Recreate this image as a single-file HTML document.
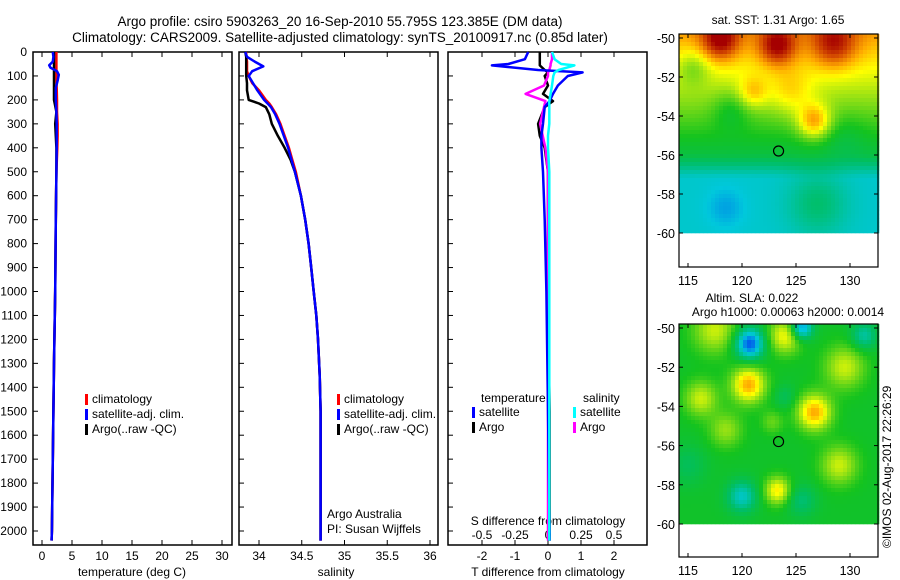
<!DOCTYPE html>
<html><head><meta charset="utf-8"><style>
body{margin:0;background:#fff;}
svg{display:block;font-family:"Liberation Sans",sans-serif;}
text{fill:#000;}
</style></head><body>
<svg id="c" width="900" height="580" viewBox="0 0 900 580">
<text x="340" y="26" font-size="13.5" text-anchor="middle">Argo profile: csiro 5903263_20 16-Sep-2010 55.795S 123.385E (DM data)</text>
<text x="340" y="42" font-size="13.5" text-anchor="middle">Climatology: CARS2009. Satellite-adjusted climatology: synTS_20100917.nc (0.85d later)</text>
</svg>
<script>
// ---- profile data (depth in m) ----
const tDepth=[0,20,40,55,65,80,95,120,150,200,250,300,350,400,500,700,1000,1300,1600,2000,2040];
const tClim=[2.4,2.4,2.4,2.4,2.4,2.4,2.4,2.4,2.45,2.5,2.5,2.6,2.6,2.55,2.4,2.3,2.2,2.0,1.85,1.65,1.6];
const tSat=[1.8,1.9,1.8,1.2,1.4,2.5,2.8,2.6,2.3,2.3,2.4,2.45,2.45,2.45,2.4,2.3,2.2,2.0,1.85,1.65,1.6];
const tArgo=[2.0,2.0,2.0,2.0,2.0,2.0,2.0,2.0,2.0,2.0,2.4,2.2,2.3,2.4,2.4,2.3,2.2,2.0,1.85,1.65,1.6];
const sDepth=[0,20,40,60,80,100,130,160,200,215,230,260,300,350,400,450,500,600,700,800,900,1000,1100,1200,1350,1500,2000,2040];
const sClim=[33.85,33.85,33.86,33.86,33.86,33.88,33.92,34.0,34.08,34.12,34.15,34.2,34.25,34.3,34.35,34.39,34.43,34.49,34.54,34.58,34.61,34.64,34.67,34.69,34.71,34.72,34.72,34.72];
const sSat=[33.84,33.86,33.95,34.05,33.92,33.88,33.93,33.98,34.06,34.1,34.14,34.19,34.24,34.29,34.34,34.38,34.42,34.49,34.54,34.58,34.61,34.64,34.67,34.69,34.71,34.72,34.72,34.72];
const sArgo=[33.84,33.85,33.85,33.85,33.85,33.85,33.86,33.86,33.88,34.0,34.08,34.12,34.15,34.22,34.3,34.37,34.42,34.49,34.54,34.58,34.61,34.64,34.67,34.69,34.71,34.72,34.72,34.72];
const dDepth=[0,30,50,56,75,85,100,140,175,205,230,300,350,400,500,700,1000,1500,2000,2040];
const dTSat=[-0.6,-0.7,-1.2,-1.7,-0.3,1.05,0.6,0.3,0.15,0.05,-0.1,-0.15,-0.2,-0.2,-0.15,-0.1,-0.05,0,0.05,0.05];
const dTArgo=[-0.25,-0.25,-0.25,-0.25,-0.1,0,-0.1,0,-0.15,0.15,-0.1,-0.3,-0.25,-0.1,0,0,0,0.05,0.05,0.05];
const dSSat=[0.03,0.05,0.1,0.2,0.08,0.05,0.04,0.03,0.02,0.01,0.01,0.01,0.0,0.0,0.01,0.01,0.01,0.01,0.01,0.01];
const dSArgo=[0.03,0.03,0.02,0.02,0.01,0.0,0.0,-0.03,-0.17,-0.02,-0.03,-0.06,-0.04,-0.02,0.0,0.0,0.0,0.0,0.0,0.0];
const depthTicks=[0,100,200,300,400,500,600,700,800,900,1000,1100,1200,1300,1400,1500,1600,1700,1800,1900,2000];
const tTicks=[0,5,10,15,20,25,30];
const sTicks=[34,34.5,35,35.5,36];
const dTTicks=[-2,-1,0,1,2];
const dSTicks=[-0.5,-0.25,0,0.25,0.5];
// map blobs [lon,lat,amp,radius]
const sstBlobs=[[123.3,-50.4,0.3,1.0],[118,-50.1,0.3,1.0],[128.5,-50.3,0.25,1.2],[126.7,-54.3,0.28,0.9],[124.5,-52.8,0.12,1.2],[121,-52.8,0.15,0.8],[119,-53.7,-0.1,1.0],[115.5,-51.5,-0.12,0.9],[129.5,-55,-0.05,1.2],[127,-58.5,0.12,1.6],[118.5,-58.7,-0.06,1.0]];
const slaBlobs=[[120.7,-50.8,-0.38,0.8],[120.6,-52.9,0.35,0.9],[126.7,-54.3,0.35,0.9],[124,-50.4,0.25,0.9],[117.5,-50.1,0.2,1.2],[129.5,-52,0.2,1.1],[116.2,-53.6,0.2,0.9],[118.5,-55.2,0.15,0.9],[129,-57,0.2,1.0],[123.3,-58.3,0.27,0.7],[120,-58.6,-0.22,0.8],[125.5,-50,-0.35,0.6],[131.3,-50.4,-0.18,0.7],[125.5,-58.8,-0.12,0.8],[124,-53.5,-0.08,0.6],[115,-57,-0.08,1.0],[122.8,-54.8,0.1,0.6]];

const NS='http://www.w3.org/2000/svg';
const svg=document.getElementById('c');
function mk(tag,at,parent){const e=document.createElementNS(NS,tag);for(const k in at)e.setAttribute(k,at[k]);(parent||svg).appendChild(e);return e;}
function txt(x,y,s,size,anchor){const t=mk('text',{x:x,y:y,'font-size':size||12,'text-anchor':anchor||'middle'});t.textContent=s;return t;}

const top0=52, pxPerM=23.95/100, bot=545;
const yD=d=>top0+d*pxPerM;
const xT=v=>42+v*6;
const xS=v=>259+(v-34)*85.5;
const xDT=v=>548+v*33;
const xDS=v=>548+v*132;

function panel(x0,name){
  const r=mk('rect',{x:x0,y:top0,width:199,height:bot-top0,fill:'none',stroke:'#000','stroke-width':1.5});
  
  
  depthTicks.forEach(d=>{const l=mk('line',{x1:x0,x2:x0+5,y1:yD(d),y2:yD(d),stroke:'#000'});
    
    
    if(x0===33){const t=txt(27,yD(d)+4,String(d),12,'end');
      
      }});
}
function xticks(ticks,fx,y,name,fmt){ticks.forEach(v=>{const x=fx(v);
  mk('line',{x1:x,x2:x,y1:bot,y2:bot-5,stroke:'#000'});
  mk('line',{x1:x,x2:x,y1:top0,y2:top0+5,stroke:'#000'});
  const t=txt(x,y,fmt?fmt(v):String(v),12);
  
  });}
function line(ds,vs,fx,color,name,w){
  const pts=ds.map((d,i)=>fx(vs[i]).toFixed(1)+','+yD(d).toFixed(1)).join(' ');
  const p=mk('polyline',{points:pts,fill:'none',stroke:color,'stroke-width':w||2.5,'stroke-linejoin':'round'});
  
  }

panel(33,'temperature-panel');panel(239,'salinity-panel');panel(448,'difference-panel');
xticks(tTicks,xT,560,'temperature');
xticks(sTicks,xS,560,'salinity');
xticks(dTTicks,xDT,560,'t-difference');
dSTicks.forEach(v=>{const t=txt(xDS(v),539,String(v),12);
  
  });
let t;
t=txt(132,576,'temperature (deg C)',12);
t=txt(336,576,'salinity',12);
t=txt(548,576,'T difference from climatology',12);
t=txt(548,525,'S difference from climatology',12);

line(tDepth,tClim,xT,'#ff0000','temperature-climatology-line');
line(tDepth,tArgo,xT,'#000','temperature-argo-line');
line(tDepth,tSat,xT,'#0000ff','temperature-satellite-line');
line(sDepth,sClim,xS,'#ff0000','salinity-climatology-line');
line(sDepth,sArgo,xS,'#000','salinity-argo-line');
line(sDepth,sSat,xS,'#0000ff','salinity-satellite-line');
line(dDepth,dTArgo,xDT,'#000','t-diff-argo-line');
line(dDepth,dSArgo,xDS,'#ff00ff','s-diff-argo-line');
line(dDepth,dTSat,xDT,'#0000ff','t-diff-satellite-line');
line(dDepth,dSSat,xDS,'#00ffff','s-diff-satellite-line');

function legend(x,y,items,name){items.forEach((it,i)=>{
  const r=mk('rect',{x:x,y:y+i*15-9,width:3,height:11,fill:it[0]});
  
  
  const tt=txt(x+7,y+i*15,it[1],12,'start');
  
  });}
const leg=[['#ff0000','climatology'],['#0000ff','satellite-adj. clim.'],['#000','Argo(..raw -QC)']];
legend(85,403,leg,'temperature-legend');
legend(337,403,leg,'salinity-legend');
t=txt(481,402,'temperature',12,'start');
t=txt(583,402,'salinity',12,'start');
legend(472,416,[['#0000ff','satellite'],['#000','Argo']],'t-diff-legend');
legend(573,416,[['#00ffff','satellite'],['#ff00ff','Argo']],'s-diff-legend');
t=txt(327,518,'Argo Australia',12,'start');
t=txt(327,533,'PI: Susan Wijffels',12,'start');

// ---- maps ----
const stops=[[0,[0,60,240]],[0.15,[0,200,220]],[0.3,[0,190,100]],[0.42,[20,195,30]],[0.55,[150,225,20]],[0.65,[255,255,0]],[0.75,[255,170,0]],[0.87,[215,80,0]],[1,[165,0,0]]];
function cmap(v){v=Math.max(0,Math.min(1,v));for(let i=1;i<stops.length;i++){if(v<=stops[i][0]){const a=stops[i-1],b=stops[i],f=(v-a[0])/(b[0]-a[0]);return 'rgb('+a[1].map((c,k)=>Math.round(c+(b[1][k]-c)*f)).join(',')+')';}}return 'rgb(165,0,0)';}
function blobsum(b,lon,lat){let s=0;b.forEach(q=>{const d2=((lon-q[0])/(q[3]*1.7))**2+((lat-q[1])/q[3])**2;s+=q[2]*Math.exp(-d2);});return s;}
function sst(lon,lat){let base=lat>-56?0.36+(lat+56)*0.065:Math.max(0.17,0.36+(lat+56)*0.16);return base+blobsum(sstBlobs,lon,lat);}
function sla(lon,lat){return 0.4+blobsum(slaBlobs,lon,lat);}
function map(y0,lat50,lat60,fn,name){
  const x0=679,x1=878,yb=y0+233;
  const lonX=l=>688+(l-115)*10.8, latY=l=>lat50+(-50-l)*(lat60-lat50)/10;
  const g=mk('g',{});
  const cs=4;
  for(let y=y0;y<lat60;y+=cs)for(let x=x0;x<x1;x+=cs){
    const lon=115+(x+cs/2-688)/10.8, lat=-50-(y+cs/2-lat50)*10/(lat60-lat50);
    mk('rect',{x:x,y:y,width:cs+0.3,height:Math.min(cs,lat60-y)+0.3,fill:cmap(fn(lon,lat))},g);}
  const fr=mk('rect',{x:x0,y:y0,width:x1-x0,height:yb-y0,fill:'none',stroke:'#000','stroke-width':1.2});
  
  [-50,-52,-54,-56,-58,-60].forEach(l=>{const y=latY(l);mk('line',{x1:x0,x2:x0+4,y1:y,y2:y,stroke:'#000'});mk('line',{x1:x1,x2:x1-4,y1:y,y2:y,stroke:'#000'});
    const tl=txt(675,y+5,String(l),12.5,'end');});
  [115,120,125,130].forEach(l=>{const x=lonX(l);mk('line',{x1:x,x2:x,y1:yb,y2:yb-4,stroke:'#000'});mk('line',{x1:x,x2:x,y1:y0,y2:y0+4,stroke:'#000'});
    const tl=txt(x,yb+18,String(l),12.5);});
  const c=mk('circle',{cx:lonX(123.385),cy:latY(-55.795),r:5,fill:'none',stroke:'#000','stroke-width':1.2});
  
}
map(34,38,233,sst,'sst-map');
map(324,328,524,sla,'sla-map');
t=txt(778,24,'sat. SST: 1.31 Argo: 1.65',12);
t=txt(752,302,'Altim. SLA: 0.022',12);
t=txt(788,316,'Argo h1000: 0.00063 h2000: 0.0014',12);
t=txt(0,0,'©IMOS 02-Aug-2017 22:26:29',12);t.setAttribute('transform','translate(891,548) rotate(-90)');t.setAttribute('text-anchor','start');

</script>
</body></html>
